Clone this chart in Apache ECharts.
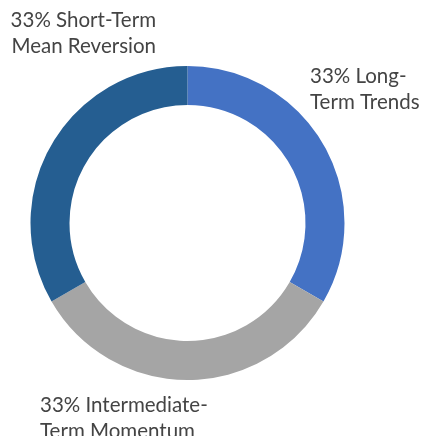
<!DOCTYPE html>
<html>
<head>
<meta charset="utf-8">
<script src="https://cdn.jsdelivr.net/npm/echarts@6/dist/echarts.min.js"></script>
<style>
  html, body { margin: 0; padding: 0; background: #ffffff; }
  #chart { width: 423px; height: 436px; }
</style>
</head>
<body>
<div id="chart"></div>
<script>
// data
var categories = ['Long-\nTerm Trends', 'Intermediate-\nTerm Momentum', 'Short-Term\nMean Reversion']
var shares = [33, 33, 33]
var colors = ['#4472C4', '#A5A5A5', '#255E91']

// where each label sits (x, y = middle of the two lines)
var labelSpots = [
  { x: 310, y: 89, align: 'left' },
  { x: 40, y: 418, align: 'left' },
  { x: 156, y: 33, align: 'right' }
]

var myChart = echarts.init(document.getElementById('chart'))
var option = {
  animation: false,
  series: [
    {
      type: 'pie',
      center: [187.5, 223],
      radius: [118, 157],
      startAngle: 90,
      clockwise: true,
      silent: true,
      emphasis: { scale: false },
      data: categories.map(function (name, i) {
        return { name: name, value: shares[i], itemStyle: { color: colors[i] } }
      }),
      label: {
        show: true,
        position: 'inside',
        color: '#444444',
        fontFamily: 'Lato',
        fontSize: 20.5,
        lineHeight: 26,
        overflow: 'none',
        formatter: function (p) {
          return p.value + '% ' + p.name
        }
      },
      labelLine: { show: false },
      labelLayout: function (params) {
        var s = labelSpots[params.dataIndex]
        return { x: s.x, y: s.y, align: s.align, verticalAlign: 'middle', hideOverlap: false }
      }
    }
  ]
}
myChart.setOption(option)
</script>
</body>
</html>
